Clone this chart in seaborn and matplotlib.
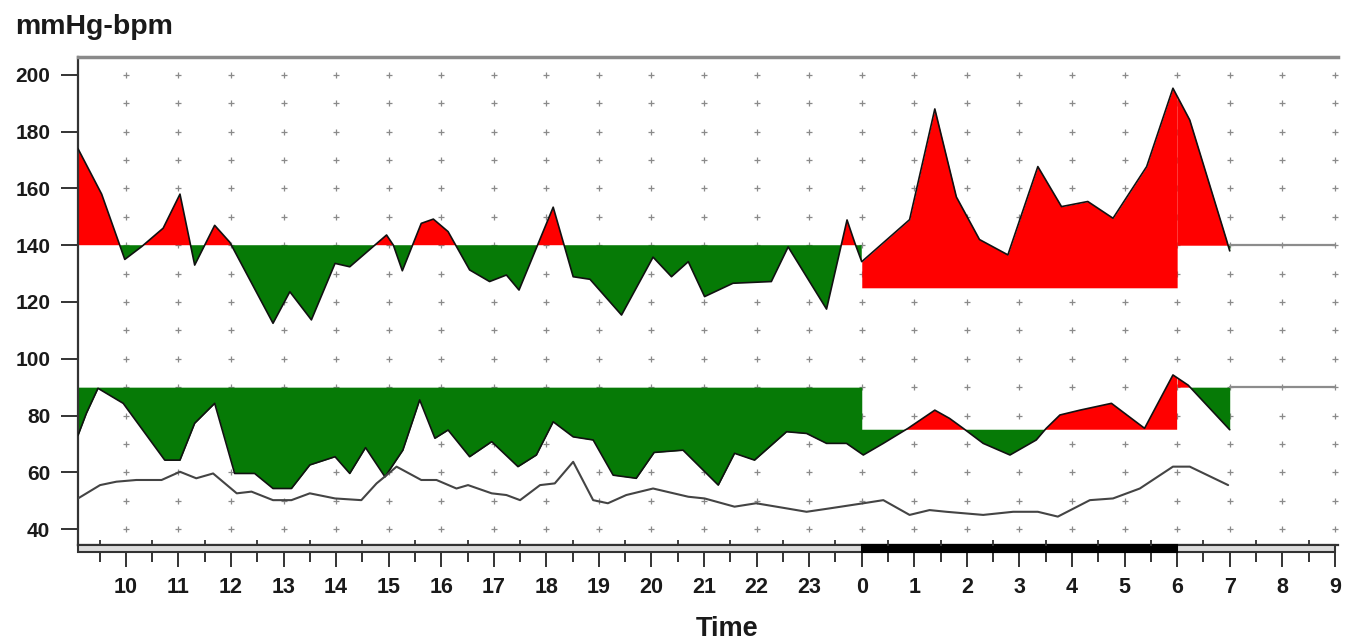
import matplotlib
matplotlib.use("Agg")
import matplotlib.pyplot as plt
from matplotlib.patches import Rectangle
import numpy as np
import seaborn as sns

# hours since midnight of day 1 (24 = midnight, 30 = 06:00 next day)
sys_t = [9.09, 9.54, 9.98, 10.30, 10.71, 11.03, 11.31, 11.69, 11.98, 12.80, 13.12,
         13.53, 13.98, 14.26, 14.96, 15.09, 15.26, 15.62, 15.85, 16.13, 16.54, 16.92,
         17.24, 17.48, 18.13, 18.51, 18.83, 19.43, 20.03, 20.38, 20.70, 21.01, 21.55,
         22.28, 22.60, 23.33, 23.72, 23.87, 24.00, 24.91, 25.39, 25.80, 26.24, 26.78,
         27.35, 27.80, 28.30, 28.78, 29.42, 29.92, 30.24, 30.94, 31.00]
sys_v = [174, 158, 135, 139.5, 146, 158, 133, 147, 141, 112.5, 123.6,
         113.7, 133.6, 132.4, 143.6, 140, 131, 147.7, 149.2, 144.8, 131.3, 127.2,
         129.5, 124.2, 153.4, 128.9, 128, 115.4, 135.8, 128.9, 134.2, 121.9, 126.6,
         127.2, 139.4, 117.5, 148.9, 140.7, 134.2, 149, 188, 157, 142, 136.6,
         167.7, 153.6, 155.4, 149.5, 167.7, 195.3, 184.1, 141.8, 138]

dia_t = [9.09, 9.25, 9.47, 9.95, 10.74, 11.03, 11.31, 11.69, 12.07, 12.45, 12.80,
         13.15, 13.50, 13.98, 14.26, 14.56, 14.93, 15.27, 15.59, 15.88, 16.13, 16.54,
         16.96, 17.46, 17.81, 18.13, 18.51, 18.89, 19.27, 19.71, 20.05, 20.60, 21.27,
         21.58, 21.96, 22.57, 22.95, 23.33, 23.71, 24.03, 24.41, 24.88, 25.39, 25.67,
         25.93, 26.31, 26.82, 27.32, 27.51, 27.77, 28.15, 28.75, 29.38, 29.92, 30.21,
         31.00]
dia_v = [73, 80.8, 89.6, 84.3, 64.3, 64.3, 77.3, 84.3, 59.6, 59.6, 54.3,
         54.3, 62.6, 65.5, 59.6, 68.7, 58.4, 67.8, 85.5, 72, 74.9, 65.5,
         70.8, 62, 66.1, 77.8, 72.5, 71.4, 59, 57.9, 67, 67.8, 55.5,
         66.7, 64.3, 74.3, 73.7, 70.2, 70.2, 66.1, 70.2, 75.5, 81.9, 79,
         75.5, 70.2, 66.1, 71.4, 75.5, 80.2, 81.9, 84.3, 75.5, 94.3, 90.7,
         75]

hr_t = [9.09, 9.51, 9.82, 10.20, 10.68, 11.03, 11.34, 11.66, 12.11, 12.39, 12.80,
        13.15, 13.50, 13.98, 14.48, 14.77, 14.96, 15.15, 15.62, 15.91, 16.29, 16.51,
        16.96, 17.24, 17.50, 17.88, 18.16, 18.51, 18.89, 19.17, 19.52, 20.03, 20.70,
        21.01, 21.58, 21.99, 22.57, 22.95, 23.39, 24.03, 24.41, 24.91, 25.29, 25.61,
        26.31, 26.88, 27.35, 27.73, 28.34, 28.78, 29.29, 29.92, 30.24, 30.97]
hr_v = [50.8, 55.5, 56.7, 57.3, 57.3, 60.2, 57.9, 59.6, 52.6, 53.2, 50.2,
        50.2, 52.6, 50.8, 50.2, 56.1, 59, 62, 57.3, 57.3, 54.3, 55.5,
        52.6, 52, 50.2, 55.5, 56.1, 63.7, 50.2, 49.1, 52, 54.3, 51.4,
        50.8, 47.9, 49.1, 47.3, 46.1, 47.3, 49.1, 50.2, 45, 46.7, 46.1,
        45, 46.1, 46.1, 44.4, 50.2, 50.8, 54.3, 62, 62, 55.5]

sys_day, sys_night = 140, 125
dia_day, dia_night = 90, 75
night_start, night_end = 24, 30
hours = list(range(10, 34))
hour_labels = [str(h % 24) for h in hours]
y_ticks = list(range(40, 201, 20))

RED = "#ff0000"
GREEN = "#067a06"

sns.set_style("white")
plt.rcParams["font.family"] = ["Liberation Sans", "DejaVu Sans"]

W, H = 1361, 644
fig = plt.figure(figsize=(W / 100, H / 100), dpi=100)
ax = fig.add_axes([78 / W, 1 - 545 / H, (1338 - 78) / W, (545 - 57) / H])
xmin, xmax = 9.09, 33.06
ax.set_xlim(xmin, xmax)
ax.set_ylim(34.4, 206.3)

# dotted grid, one dot per hour and per 10 mmHg
gx, gy = np.meshgrid(hours, np.arange(40, 201, 10))
ax.plot(gx.ravel(), gy.ravel(), "+", ms=4.5, mew=0.9, color="#8a8a8a", ls="none", zorder=1)


def fill_vs_limit(t, v, day, night):
    t = np.asarray(t, float)
    v = np.asarray(v, float)
    for a, b, lim in [(t[0], night_start, day), (night_start, night_end, night), (night_end, t[-1], day)]:
        inside = (t > a) & (t < b)
        ts = np.concatenate([[a], t[inside], [b]])
        vs = np.interp(ts, t, v)
        ax.fill_between(ts, vs, lim, where=vs >= lim, interpolate=True, color=RED, lw=0, zorder=2)
        ax.fill_between(ts, vs, lim, where=vs <= lim, interpolate=True, color=GREEN, lw=0, zorder=2)
    # plain limit line after the last reading
    ax.plot([t[-1], 33], [day, day], color="#8c8c8c", lw=1.6, zorder=2)


fill_vs_limit(sys_t, sys_v, sys_day, sys_night)
fill_vs_limit(dia_t, dia_v, dia_day, dia_night)

sns.lineplot(x=sys_t, y=sys_v, color="#111111", lw=1.2, sort=False, estimator=None, ax=ax, zorder=3)
sns.lineplot(x=dia_t, y=dia_v, color="#111111", lw=1.2, sort=False, estimator=None, ax=ax, zorder=3)
sns.lineplot(x=hr_t, y=hr_v, color="#444444", lw=1.5, sort=False, estimator=None, ax=ax, zorder=3)

# spines
ax.spines["right"].set_visible(False)
ax.spines["top"].set_color("#8a8a8a")
ax.spines["top"].set_linewidth(2.5)
ax.spines["left"].set_color("#333333")
ax.spines["left"].set_linewidth(1.6)
ax.spines["bottom"].set_color("#333333")
ax.spines["bottom"].set_linewidth(1.6)

# time band under the axis, black during the night
band_h = 7 / 488
trans = ax.get_xaxis_transform()
ax.add_patch(Rectangle((xmin, -band_h), 33 - xmin, band_h, transform=trans, clip_on=False,
                       facecolor="#dcdcdc", edgecolor="#333333", lw=1.5, zorder=4))
ax.add_patch(Rectangle((night_start, -band_h), night_end - night_start, band_h, transform=trans,
                       clip_on=False, facecolor="black", edgecolor="black", lw=1.5, zorder=5))
# short marks above the band at the half hours
half_hours = np.arange(9.5, 33, 1)
ax.plot(half_hours, np.full(len(half_hours), 0.004), "|", ms=5, mew=1.3, color="#333333",
        transform=trans, clip_on=False, zorder=5)

ax.set_xticks(hours)
ax.set_xticklabels(hour_labels)
ax.set_xticks(half_hours, minor=True)
ax.set_yticks(y_ticks)
ax.tick_params(axis="x", which="major", direction="out", length=16, width=1.4, color="#333333",
               pad=7, labelsize=15.5, bottom=True)
ax.tick_params(axis="x", which="minor", direction="out", length=12, width=1.4, color="#333333",
               bottom=True)
ax.tick_params(axis="y", which="major", direction="out", length=12, width=1.4, color="#333333",
               pad=8, labelsize=15, left=True)
for lab in ax.get_xticklabels() + ax.get_yticklabels():
    lab.set_fontweight("bold")
    lab.set_color("#1a1a1a")

fig.text(15 / W, 1 - 34 / H, "mmHg-bpm", ha="left", va="baseline", fontsize=20.5,
         fontweight="bold", color="#1a1a1a")
fig.text(727 / W, 1 - 636 / H, "Time", ha="center", va="baseline", fontsize=19.5,
         fontweight="bold", color="#1a1a1a")

fig.savefig("out.png", dpi=100, facecolor="white")
